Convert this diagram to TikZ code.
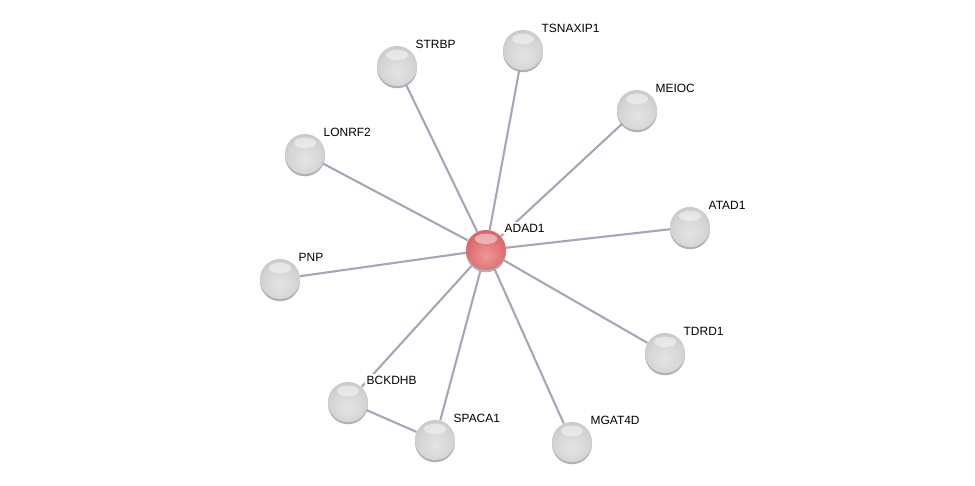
\documentclass[tikz,border=0pt]{standalone}
\usepackage{fontspec}
\setmainfont{Liberation Sans}
\usetikzlibrary{shadows}

\definecolor{gA}{RGB}{228,228,228}
\definecolor{gB}{RGB}{212,212,212}
\definecolor{gC}{RGB}{184,184,184}
\definecolor{gD}{RGB}{138,138,138}
\definecolor{rA}{RGB}{238,150,150}
\definecolor{rB}{RGB}{222,112,114}
\definecolor{rC}{RGB}{200,86,89}
\definecolor{rD}{RGB}{158,52,56}
\definecolor{edgecol}{RGB}{168,165,186}

\pgfdeclareradialshading{glassgray}{\pgfpoint{0bp}{-8bp}}{%
  color(0bp)=(gA); color(22bp)=(gB); color(42bp)=(gC);
  color(52bp)=(gD); color(70bp)=(gD)}
\pgfdeclareradialshading{glassred}{\pgfpoint{0bp}{-8bp}}{%
  color(0bp)=(rA); color(22bp)=(rB); color(42bp)=(rC);
  color(52bp)=(rD); color(70bp)=(rD)}

\begin{document}
\begin{tikzpicture}[x=0.025cm,y=-0.025cm,
  prot/.style={circle,inner sep=0pt,minimum size=1cm,shading=glassgray,
    drop shadow={shadow xshift=0pt,shadow yshift=-1.6pt,opacity=0.3,fill=black},
    path picture={\fill[white,opacity=0.45] ([yshift=0.28cm]path picture bounding box.center)
      ellipse (0.28cm and 0.13cm);}},
  query/.style={prot,shading=glassred},
  lab/.style={anchor=west,fill=white,inner sep=1pt,font=\fontsize{8.5}{10}\selectfont},
  edge/.style={line width=1.5pt,color=edgecol}]
  \useasboundingbox (0,0) rectangle (975,486);
  \node[query] (ADAD1) at (486,250) {};
  \node[prot] (STRBP) at (397,66) {};
  \node[prot] (TSNAXIP1) at (523,50) {};
  \node[prot] (MEIOC) at (637,110) {};
  \node[prot] (LONRF2) at (305,154) {};
  \node[prot] (ATAD1) at (690,227) {};
  \node[prot] (PNP) at (280,279) {};
  \node[prot] (TDRD1) at (665,353) {};
  \node[prot] (BCKDHB) at (348,402) {};
  \node[prot] (SPACA1) at (435,440) {};
  \node[prot] (MGAT4D) at (572,442) {};
  % interactions
  \draw[edge] (ADAD1) -- (STRBP);
  \draw[edge] (ADAD1) -- (TSNAXIP1);
  \draw[edge] (ADAD1) -- (MEIOC);
  \draw[edge] (ADAD1) -- (LONRF2);
  \draw[edge] (ADAD1) -- (ATAD1);
  \draw[edge] (ADAD1) -- (PNP);
  \draw[edge] (ADAD1) -- (TDRD1);
  \draw[edge] (ADAD1) -- (BCKDHB);
  \draw[edge] (ADAD1) -- (SPACA1);
  \draw[edge] (ADAD1) -- (MGAT4D);
  \draw[edge] (BCKDHB) -- (SPACA1);
  % labels
  \node[lab] (lADAD1) at ([shift={(17,-22)}]ADAD1.center) {ADAD1};
  \node[lab] (lSTRBP) at ([shift={(17,-22)}]STRBP.center) {STRBP};
  \node[lab] (lTSNAXIP1) at ([shift={(17,-22)}]TSNAXIP1.center) {TSNAXIP1};
  \node[lab] (lMEIOC) at ([shift={(17,-22)}]MEIOC.center) {MEIOC};
  \node[lab] (lLONRF2) at ([shift={(17,-22)}]LONRF2.center) {LONRF2};
  \node[lab] (lATAD1) at ([shift={(17,-22)}]ATAD1.center) {ATAD1};
  \node[lab] (lPNP) at ([shift={(17,-22)}]PNP.center) {PNP};
  \node[lab] (lTDRD1) at ([shift={(17,-22)}]TDRD1.center) {TDRD1};
  \node[lab] (lBCKDHB) at ([shift={(17,-22)}]BCKDHB.center) {BCKDHB};
  \node[lab] (lSPACA1) at ([shift={(17,-22)}]SPACA1.center) {SPACA1};
  \node[lab] (lMGAT4D) at ([shift={(17,-22)}]MGAT4D.center) {MGAT4D};
\end{tikzpicture}
\end{document}
